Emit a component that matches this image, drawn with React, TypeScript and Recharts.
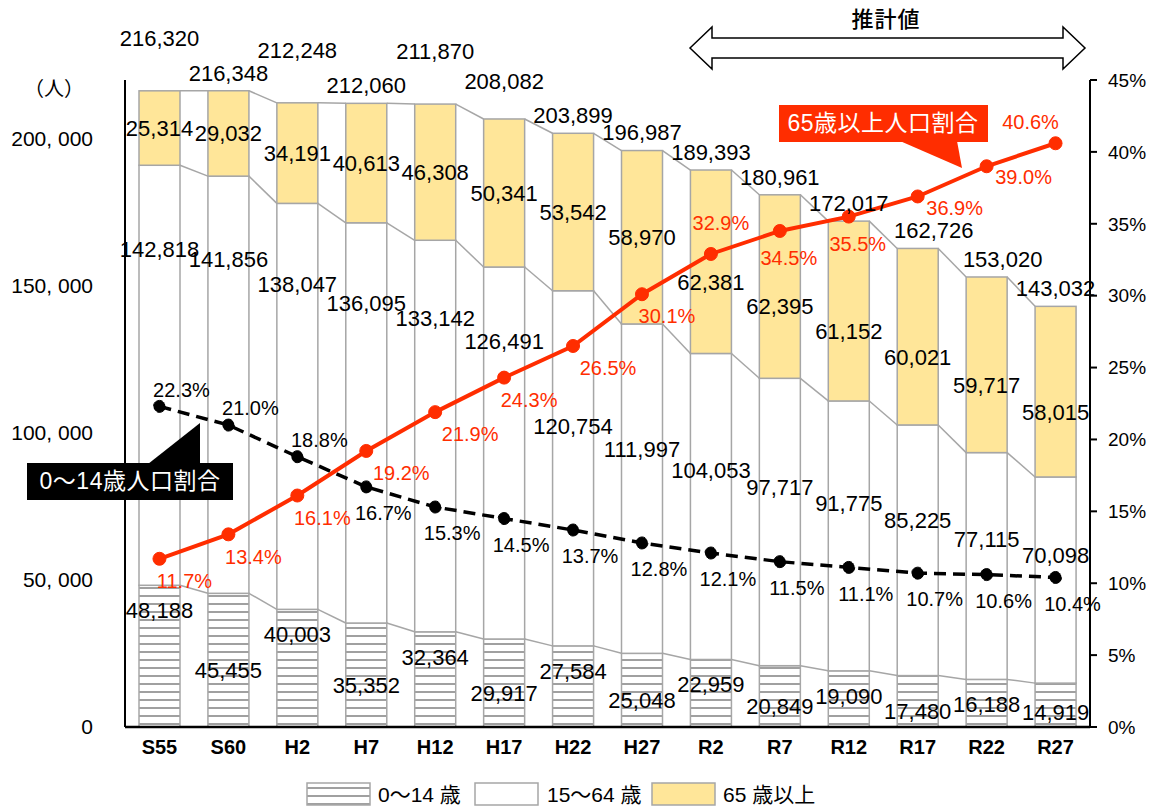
import React from 'react';
import { ComposedChart, Bar, Line, XAxis, YAxis, LabelList } from 'recharts';

const years = ['S55', 'S60', 'H2', 'H7', 'H12', 'H17', 'H22', 'H27', 'R2', 'R7', 'R12', 'R17', 'R22', 'R27'];
const young = [48188, 45455, 40003, 35352, 32364, 29917, 27584, 25048, 22959, 20849, 19090, 17480, 16188, 14919];
const working = [142818, 141856, 138047, 136095, 133142, 126491, 120754, 111997, 104053, 97717, 91775, 85225, 77115, 70098];
const elderly = [25314, 29032, 34191, 40613, 46308, 50341, 53542, 58970, 62381, 62395, 61152, 60021, 59717, 58015];
const totals = [216320, 216348, 212248, 212060, 211870, 208082, 203899, 196987, 189393, 180961, 172017, 162726, 153020, 143032];
const elderlyRate = [11.7, 13.4, 16.1, 19.2, 21.9, 24.3, 26.5, 30.1, 32.9, 34.5, 35.5, 36.9, 39.0, 40.6];
const youngRate = [22.3, 21.0, 18.8, 16.7, 15.3, 14.5, 13.7, 12.8, 12.1, 11.5, 11.1, 10.7, 10.6, 10.4];
const leftTicks = [0, 50000, 100000, 150000, 200000];
const rightTicks = [0, 5, 10, 15, 20, 25, 30, 35, 40, 45];

const data = years.map((year, i) => ({
  year,
  young: young[i],
  working: working[i],
  elderly: elderly[i],
  total: totals[i],
  elderlyRate: elderlyRate[i],
  youngRate: youngRate[i],
}));

const W = 1150;
const H = 809;
const LEFT_W = 125;
const RIGHT_W = 60;
const STEP = (W - LEFT_W - RIGHT_W) / years.length;

const RED = '#FF2D00';
const YELLOW = '#FFE699';
const EDGE = '#A6A6A6';
const NUM = '"Liberation Sans", Arial, sans-serif';
const MIX = '"Liberation Sans", "Noto Sans CJK JP", sans-serif';
const JP = '"Noto Sans CJK JP", sans-serif';

const fmt = (n: number) => n.toLocaleString('en-US');

// bar segment + the grey series line to the next bar's matching top
const makeSegment = (keys: string[], fill: string) => (props: any) => {
  const { x, y, width, height, index, payload } = props;
  const own = payload[keys[keys.length - 1]];
  const ppu = height / own;
  const below = keys.slice(0, -1).reduce((s, k) => s + payload[k], 0);
  const zero = y + height + below * ppu;
  const next: any = data[index + 1];
  let link = null;
  if (next) {
    const cum = keys.reduce((s, k) => s + next[k], 0);
    link = <line x1={x + width} y1={y} x2={x + STEP} y2={zero - cum * ppu} stroke={EDGE} strokeWidth={1.5} />;
  }
  return (
    <g>
      <rect x={x} y={y} width={width} height={height} fill={fill} stroke={EDGE} strokeWidth={1.5} />
      {link}
    </g>
  );
};

const youngShape = makeSegment(['young'], 'url(#hatch)');
const workingShape = makeSegment(['young', 'working'], '#FFFFFF');
const elderlyShape = makeSegment(['young', 'working', 'elderly'], YELLOW);

const valueText = (x: number, y: number, text: string, fill = '#000', size = 22) => (
  <text x={x} y={y} dy="0.36em" textAnchor="middle" fontFamily={NUM} fontSize={size} fill={fill}>
    {text}
  </text>
);

const youngLabel = (p: any) => {
  const { x, y, width, height, index } = p;
  const ty = index % 2 === 0 ? y + 25 : Math.min(y + height / 2 + 10, 712);
  return valueText(x + width / 2, ty, fmt(young[index]));
};

const workingLabel = (p: any) => {
  const { x, y, width, height, index } = p;
  return valueText(x + width / 2, y + height * (index >= 6 ? 0.38 : 0.2), fmt(working[index]));
};

const elderlyLabel = (p: any) => {
  const { x, y, width, height, index } = p;
  return valueText(x + width / 2, y + height / 2 + (index >= 8 ? 20 : 0), fmt(elderly[index]));
};

const totalLabel = (p: any) => {
  const { x, y, width, index } = p;
  let lift = 0;
  if (index < 6) lift = index % 2 === 0 ? 35 : index === 5 ? 20 : 0;
  const shift = index === 11 || index === 12 ? 16 : 0;
  return valueText(x + width / 2 + shift, y - 18 - lift, fmt(totals[index]));
};

const redLabel = (p: any) => {
  const { x, y, index } = p;
  let dx = 25;
  let dy = 22;
  if (index === 3 || index === 4 || index === 6) {
    dx = 35;
  } else if (index === 8) {
    dx = 10;
    dy = -31;
  } else if (index === 9 || index === 10) {
    dx = 9;
    dy = 27;
  } else if (index === 11 || index === 12) {
    dx = 37;
    dy = 11;
  } else if (index === years.length - 1) {
    dx = -25;
    dy = -21;
  }
  return valueText(x + dx, y + dy, `${elderlyRate[index].toFixed(1)}%`, RED, 20);
};

const blackLabel = (p: any) => {
  const { x, y, index } = p;
  const dx = index < 3 ? 22 : 17;
  const dy = index < 3 ? -17 : 26;
  return valueText(x + dx, y + dy, `${youngRate[index].toFixed(1)}%`, '#000', 20);
};

const leftFmt = (v: number) => (v === 0 ? '0' : fmt(v).replace(',', ', '));

const Overlay = () => (
  <svg width={W} height={H} style={{ position: 'absolute', left: 0, top: 0, pointerEvents: 'none' }}>
    <text x={54} y={89} dy="0.36em" textAnchor="middle" fontFamily={JP} fontSize={20} fill="#000">（人）</text>

    <polygon
      points="690,48 712,27 712,38 1063,38 1063,27 1085,48 1063,69 1063,58 712,58 712,69"
      fill="#fff"
      stroke="#000"
      strokeWidth={1.5}
    />
    <text x={886} y={19} dy="0.36em" textAnchor="middle" fontFamily={JP} fontSize={22} fontWeight={500} letterSpacing={1} fill="#000">推計値</text>

    <rect x={779} y={105} width={209} height={37} fill={RED} />
    <polygon points="900,141 957,141 962,168" fill={RED} />
    <text x={883} y={123} dy="0.36em" textAnchor="middle" fontFamily={MIX} fontSize={23} letterSpacing={0.5} fill="#fff">65歳以上人口割合</text>

    <rect x={27} y={463} width={206} height={37} fill="#000" />
    <polygon points="148,464 200,423 200,464" fill="#000" />
    <text x={130} y={481} dy="0.36em" textAnchor="middle" fontFamily={MIX} fontSize={23} letterSpacing={0.5} fill="#fff">0〜14歳人口割合</text>

    <rect x={307} y={783} width={63} height={22} fill="url(#hatch)" stroke={EDGE} strokeWidth={1.5} />
    <text x={378} y={794} dy="0.36em" fontFamily={MIX} fontSize={21} fill="#000">0〜14 歳</text>
    <rect x={475} y={783} width={63} height={22} fill="#fff" stroke={EDGE} strokeWidth={1.5} />
    <text x={547} y={794} dy="0.36em" fontFamily={MIX} fontSize={21} fill="#000">15〜64 歳</text>
    <rect x={652} y={783} width={63} height={22} fill={YELLOW} stroke={EDGE} strokeWidth={1.5} />
    <text x={723} y={794} dy="0.36em" fontFamily={MIX} fontSize={21} fill="#000">65 歳以上</text>
  </svg>
);

export default function App() {
  return (
    <div style={{ position: 'relative', width: W, height: H, background: '#fff' }}>
      <style>{'body{margin:0;background:#fff}'}</style>
      <svg width={0} height={0} style={{ position: 'absolute' }}>
        <defs>
          <pattern id="hatch" patternUnits="userSpaceOnUse" width={8} height={8}>
            <rect width={8} height={8} fill="#fff" />
            <line x1={0} y1={4} x2={8} y2={4} stroke="#A0A0A0" strokeWidth={2} />
          </pattern>
        </defs>
      </svg>
      <ComposedChart width={W} height={H} data={data} margin={{ top: 80, right: 0, bottom: 32, left: 0 }}>
        <XAxis
          dataKey="year"
          interval={0}
          height={50}
          tickSize={0}
          tickMargin={13}
          tickLine={false}
          axisLine={{ stroke: '#000', strokeWidth: 2.5 }}
          tick={{ fontFamily: NUM, fontSize: 20, fontWeight: 'bold', fill: '#000' }}
        />
        <YAxis
          yAxisId="left"
          orientation="left"
          width={LEFT_W}
          domain={[0, 220000]}
          ticks={leftTicks}
          tickFormatter={leftFmt}
          tickSize={0}
          tickMargin={32}
          tickLine={false}
          axisLine={{ stroke: '#000', strokeWidth: 2 }}
          tick={{ fontFamily: NUM, fontSize: 21, fill: '#000' }}
        />
        <YAxis
          yAxisId="right"
          orientation="right"
          width={RIGHT_W}
          domain={[0, 45]}
          ticks={rightTicks}
          tickFormatter={(v: number) => `${v}%`}
          tickSize={7}
          tickMargin={11}
          tickLine={{ stroke: '#000', strokeWidth: 2 }}
          axisLine={{ stroke: '#000', strokeWidth: 2 }}
          tick={{ fontFamily: NUM, fontSize: 19, fill: '#000', textAnchor: 'start' }}
        />
        <Bar yAxisId="left" dataKey="young" stackId="pop" barSize={41} shape={youngShape} isAnimationActive={false}>
          <LabelList dataKey="young" content={youngLabel} />
        </Bar>
        <Bar yAxisId="left" dataKey="working" stackId="pop" barSize={41} shape={workingShape} isAnimationActive={false}>
          <LabelList dataKey="working" content={workingLabel} />
        </Bar>
        <Bar yAxisId="left" dataKey="elderly" stackId="pop" barSize={41} shape={elderlyShape} isAnimationActive={false}>
          <LabelList dataKey="elderly" content={elderlyLabel} />
          <LabelList dataKey="total" content={totalLabel} />
        </Bar>
        <Line
          yAxisId="right"
          dataKey="youngRate"
          stroke="#000"
          strokeWidth={3.5}
          strokeDasharray="12 7"
          dot={{ r: 6, fill: '#000', stroke: '#000', strokeWidth: 1 }}
          isAnimationActive={false}
        >
          <LabelList dataKey="youngRate" content={blackLabel} />
        </Line>
        <Line
          yAxisId="right"
          dataKey="elderlyRate"
          stroke={RED}
          strokeWidth={4}
          dot={{ r: 6.5, fill: RED, stroke: RED, strokeWidth: 1 }}
          isAnimationActive={false}
        >
          <LabelList dataKey="elderlyRate" content={redLabel} />
        </Line>
      </ComposedChart>
      <Overlay />
    </div>
  );
}
